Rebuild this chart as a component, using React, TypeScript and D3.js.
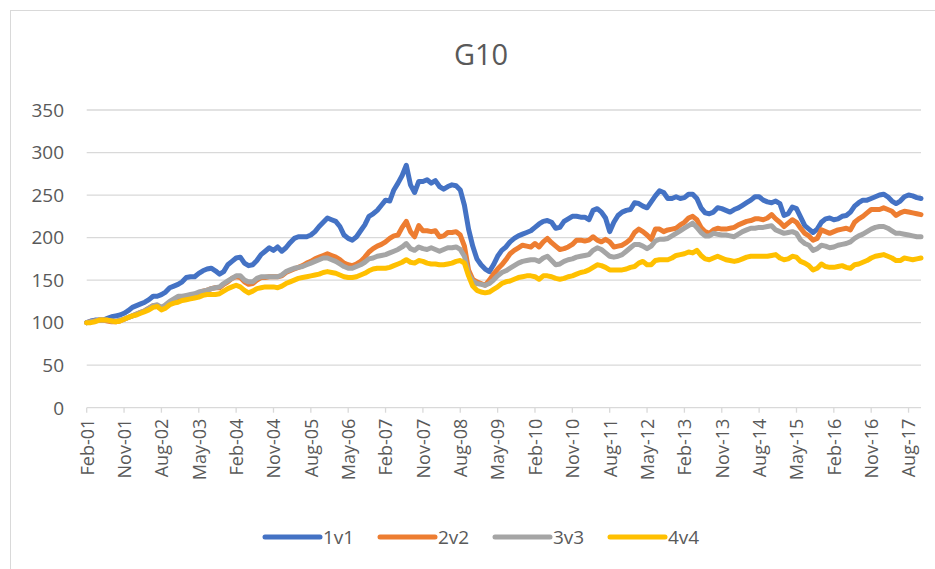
import * as d3 from 'd3'

const seriesNames = ['1v1', '2v2', '3v3', '4v4']
const seriesColors = ['#4472C4', '#ED7D31', '#A5A5A5', '#FFC000']

// monthly values, Feb-01 .. Nov-17
const v1v1 = [
  100, 102, 103, 103, 103, 105, 107, 108, 109, 111,
  114, 118, 120, 122, 124, 127, 131, 131, 133, 136,
  141, 143, 145, 148, 153, 154, 154, 158, 161, 163,
  164, 161, 157, 160, 168, 172, 176, 177, 170, 167,
  168, 173, 180, 184, 188, 185, 189, 184, 188, 194,
  199, 201, 201, 201, 203, 207, 213, 218, 223, 221,
  219, 213, 203, 199, 197, 201, 208, 215, 225, 228,
  232, 238, 244, 243, 256, 264, 273, 285, 262, 253,
  266, 266, 268, 264, 267, 260, 257, 260, 262, 261,
  256, 238, 210, 190, 175, 168, 163, 160, 168, 178,
  185, 189, 195, 199, 202, 204, 206, 208, 212, 216,
  219, 220, 218, 211, 212, 219, 222, 225, 225, 224,
  224, 221, 232, 234, 230, 223, 207, 218, 226, 230,
  232, 233, 241, 240, 237, 235, 242, 249, 255, 253,
  246, 246, 248, 246, 247, 251, 251, 246, 235, 229,
  228, 230, 235, 234, 232, 230, 233, 235, 238, 241,
  244, 248, 248, 244, 242, 241, 243, 240, 226, 228,
  236, 234, 224, 214, 210, 206, 210, 218, 222, 223,
  221, 222, 225, 226, 230, 237, 241, 244, 244, 246,
  248, 250, 251, 248, 243, 240, 243, 248, 250, 249,
  247, 246,
]

const v2v2 = [
  100, 101, 102, 103, 103, 102, 101, 101, 102, 104,
  106, 108, 110, 112, 114, 117, 120, 119, 117, 120,
  124, 126, 129, 130, 131, 132, 133, 135, 137, 138,
  140, 141, 141, 145, 148, 152, 154, 153, 148, 145,
  146, 150, 153, 153, 154, 154, 154, 155, 159, 161,
  163, 165, 167, 170, 172, 175, 177, 179, 181, 179,
  177, 174, 170, 168, 167, 169, 172, 177, 183, 187,
  190, 192, 195, 199, 202, 203, 212, 219, 207, 201,
  214, 208, 208, 207, 208, 201, 202, 206, 206, 207,
  203, 190, 162, 151, 148, 146, 144, 150, 157, 163,
  168, 174, 181, 185, 188, 191, 190, 189, 193, 189,
  195, 199, 194, 190, 186, 187, 189, 192, 197, 197,
  196, 197, 201, 197, 195, 198, 195, 189, 190, 191,
  194, 198, 206, 210, 207, 203, 198, 210, 210, 207,
  209, 210, 211, 215, 218, 223, 225, 221, 212, 207,
  205, 209, 211, 210, 210, 211, 212, 215, 217, 219,
  220, 222, 222, 221, 223, 227, 222, 218, 213, 217,
  221, 218, 211, 205, 202, 197, 199, 209, 207, 205,
  207, 209, 210, 211, 209, 218, 222, 225, 229, 233,
  233, 233, 235, 233, 231, 226, 229, 231, 230, 229,
  228, 227,
]

const v3v3 = [
  100, 101, 102, 103, 103, 103, 102, 102, 103, 104,
  106, 108, 110, 112, 114, 117, 120, 121, 118, 121,
  125, 128, 131, 131, 132, 133, 134, 136, 137, 138,
  140, 141, 142, 146, 149, 152, 155, 155, 150, 148,
  148, 152, 154, 154, 154, 154, 154, 156, 160, 162,
  164, 165, 166, 168, 170, 172, 174, 176, 176, 174,
  172, 169, 166, 164, 164, 166, 168, 171, 175, 176,
  178, 179, 180, 182, 184, 186, 189, 193, 187, 185,
  189, 187, 186, 188, 186, 184, 186, 188, 188, 189,
  186, 178, 157, 149, 146, 145, 144, 146, 150, 155,
  159, 161, 164, 167, 170, 172, 173, 174, 174, 172,
  176, 178, 173, 168, 169, 172, 174, 175, 177, 178,
  179, 180, 185, 188, 186, 182, 178, 177, 178, 180,
  184, 188, 192, 192, 190, 187, 190, 196, 198, 198,
  199, 202, 205, 208, 211, 214, 217, 212, 206, 202,
  202, 205, 204, 203, 203, 202, 201, 204, 207, 209,
  211, 211, 212, 212, 213, 214, 209, 207, 205, 206,
  207, 205, 197, 193, 191, 185, 187, 191, 190, 188,
  189, 191, 192, 193, 195, 199, 202, 204, 207, 210,
  212, 213, 213, 211, 208, 205, 205, 204, 203, 202,
  201, 201,
]

const v4v4 = [
  100, 100, 101, 103, 103, 103, 102, 101, 102, 104,
  106, 108, 109, 111, 113, 115, 118, 119, 115, 117,
  121, 123, 124, 126, 127, 128, 129, 130, 132, 133,
  133, 133, 134, 137, 140, 142, 144, 142, 138, 135,
  137, 140, 141, 142, 142, 142, 141, 143, 146, 148,
  150, 152, 153, 154, 155, 156, 157, 159, 160, 159,
  158, 156, 154, 153, 153, 154, 156, 158, 161, 163,
  164, 164, 164, 165, 167, 169, 171, 174, 171, 170,
  173, 172, 170, 169, 169, 168, 168, 169, 170, 172,
  173, 170, 155, 143, 138, 136, 135, 136, 139, 142,
  146, 148, 149, 151, 153, 154, 155, 155, 154, 151,
  155, 155, 154, 152, 151, 152, 154, 155, 157, 159,
  160, 162, 165, 168, 167, 165, 162, 162, 162, 162,
  163, 165, 166, 170, 172, 168, 168, 173, 174, 174,
  174, 176, 179, 180, 181, 183, 182, 185, 179, 175,
  174, 176, 178, 176, 174, 173, 172, 173, 175, 177,
  178, 178, 178, 178, 178, 179, 180, 176, 174, 175,
  178, 177, 172, 170, 167, 162, 164, 169, 166, 165,
  165, 166, 167, 165, 164, 168, 169, 171, 173, 176,
  178, 179, 180, 178, 176, 173, 173, 176, 175, 174,
  175, 176,
]

const xTickLabels = [
  'Feb-01', 'Nov-01', 'Aug-02', 'May-03', 'Feb-04', 'Nov-04', 'Aug-05', 'May-06',
  'Feb-07', 'Nov-07', 'Aug-08', 'May-09', 'Feb-10', 'Nov-10', 'Aug-11', 'May-12',
  'Feb-13', 'Nov-13', 'Aug-14', 'May-15', 'Feb-16', 'Nov-16', 'Aug-17',
]
const yTicks = [0, 50, 100, 150, 200, 250, 300, 350]

const allSeries = [v1v1, v2v2, v3v3, v4v4]

// month categories
const months = d3
  .timeMonth.range(new Date(2001, 1, 1), new Date(2017, 11, 1))
  .map(d3.timeFormat('%b-%y'))

const width = 935
const height = 569
const margin = { top: 110, right: 14, bottom: 161.3, left: 86.7 }
const font = '"Open Sans", "Liberation Sans", sans-serif'
const textColor = '#595959'
const gridColor = '#d9d9d9'

export default function App() {
  const x = d3
    .scalePoint<string>()
    .domain(months)
    .range([margin.left, width - margin.right])

  const y = d3
    .scaleLinear()
    .domain([0, 350])
    .range([height - margin.bottom, margin.top])

  const line = d3
    .line<number>()
    .x((_, i) => x(months[i])!)
    .y(d => y(d))

  const legendX = 265
  const legendStep = 115

  return (
    <svg
      width={width}
      height={height}
      style={{ position: 'absolute', left: 0, top: 0, background: '#fff' }}
      fontFamily={font}
    >
      <rect x={10.5} y={10.5} width={940} height={580} fill="#fff" stroke={gridColor} />

      {/* Title */}
      <text x={481} y={65} textAnchor="middle" fontSize={29} fill={textColor}>
        G10
      </text>

      {/* Gridlines + y labels */}
      {yTicks.map(t => (
        <g key={t}>
          {t > 0 && (
            <line
              x1={margin.left}
              x2={width - margin.right}
              y1={y(t)}
              y2={y(t)}
              stroke={gridColor}
              strokeWidth={1.3}
            />
          )}
          <text
            x={64}
            y={y(t)}
            dy="0.36em"
            textAnchor="end"
            fontSize={19}
            fill={textColor}
          >
            {t}
          </text>
        </g>
      ))}

      {/* X axis */}
      <line
        x1={margin.left}
        x2={width - margin.right}
        y1={y(0)}
        y2={y(0)}
        stroke={gridColor}
        strokeWidth={1.3}
      />
      {xTickLabels.map(lbl => (
        <g key={lbl} transform={`translate(${x(lbl)},${y(0)})`}>
          <line y1={0} y2={5} stroke={gridColor} strokeWidth={1.3} />
          <text
            transform="rotate(-90)"
            x={-11}
            dy="0.38em"
            textAnchor="end"
            fontSize={18}
            fill={textColor}
          >
            {lbl}
          </text>
        </g>
      ))}

      {/* Series */}
      {allSeries.map((s, k) => (
        <path
          key={seriesNames[k]}
          d={line(s)!}
          fill="none"
          stroke={seriesColors[k]}
          strokeWidth={5}
          strokeLinejoin="round"
          strokeLinecap="round"
        />
      ))}

      {/* Legend */}
      {seriesNames.map((name, k) => (
        <g key={name} transform={`translate(${legendX + k * legendStep},537)`}>
          <line
            x1={0}
            x2={55}
            stroke={seriesColors[k]}
            strokeWidth={5}
            strokeLinecap="round"
          />
          <text x={58} dy="0.36em" fontSize={19} fill={textColor}>
            {name}
          </text>
        </g>
      ))}
    </svg>
  )
}
